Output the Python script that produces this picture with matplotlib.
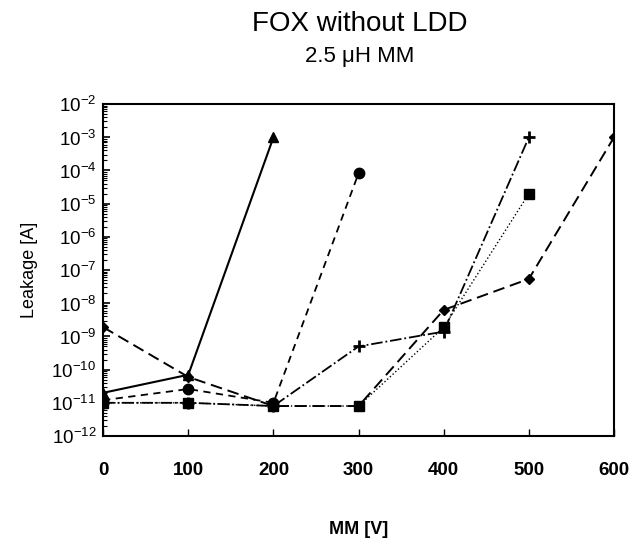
import matplotlib
matplotlib.use("Agg")
import matplotlib.pyplot as plt
from matplotlib.ticker import LogLocator, FixedLocator

plt.rcParams['font.family'] = ['Liberation Sans', 'DejaVu Sans']
plt.rcParams['mathtext.fontset'] = 'custom'
plt.rcParams['mathtext.rm'] = 'Liberation Sans'

mm_tri = [0, 100, 200]
leak_tri = [2e-11, 7e-11, 1e-3]

mm_circ = [0, 100, 200, 300]
leak_circ = [1.2e-11, 2.6e-11, 1e-11, 8.3e-5]

mm_plus = [0, 100, 200, 300, 400, 500]
leak_plus = [1e-11, 1e-11, 8e-12, 5e-10, 1.4e-9, 1e-3]

mm_sq = [0, 100, 200, 300, 400, 500]
leak_sq = [1e-11, 1e-11, 8e-12, 8e-12, 1.9e-9, 2e-5]

mm_dia = [0, 100, 200, 300, 400, 500, 600]
leak_dia = [1.9e-9, 6e-11, 8e-12, 8e-12, 6.3e-9, 5.4e-8, 1e-3]

fig = plt.figure(figsize=(6.33, 5.45), dpi=100)
ax = fig.add_axes([0.163, 0.2, 0.807, 0.609])

ax.plot(mm_sq, leak_sq, color='black', ls=':', lw=1.0, marker='s', ms=7)
ax.plot(mm_plus, leak_plus, color='black', ls='-.', lw=1.3, marker='+', ms=8, mew=2)
ax.plot(mm_dia, leak_dia, color='black', ls=(0, (6, 3)), lw=1.4, marker='D', ms=5.5)
ax.plot(mm_circ, leak_circ, color='black', ls=(0, (4, 3)), lw=1.3, marker='o', ms=7.5)
ax.plot(mm_tri, leak_tri, color='black', ls='-', lw=1.5, marker='^', ms=7)

ax.set_yscale('log')
ax.set_xlim(0, 600)
ax.set_ylim(1e-12, 1e-2)
ax.set_xticks([0, 100, 200, 300, 400, 500, 600])
ax.set_xticklabels(['0', '100', '200', '300', '400', '500', '600'],
                   fontsize=13.5, fontweight='bold')
exps = list(range(-12, -1))
ax.yaxis.set_major_locator(FixedLocator([10.0 ** e for e in exps]))
ax.set_yticklabels(['10$^{\\mathregular{%d}}$' % e for e in exps], fontsize=13.5)
ax.yaxis.set_minor_locator(LogLocator(base=10, subs=range(2, 10), numticks=20))

ax.tick_params(axis='x', direction='in', length=5, width=1, pad=19)
ax.tick_params(axis='y', which='major', direction='in', length=5, width=1.2, pad=5)
ax.tick_params(axis='y', which='minor', direction='in', length=3, width=0.8)
for s in ax.spines.values():
    s.set_linewidth(1.5)

ax.set_xlabel('MM [V]', fontsize=13, fontweight='bold', labelpad=30)
ax.set_ylabel('Leakage [A]', fontsize=13, labelpad=10)

fig.text(0.568, 0.956, 'FOX without LDD', ha='center', va='center', fontsize=20)
fig.text(0.568, 0.897, '2.5 μH MM', ha='center', va='center', fontsize=16)

fig.savefig('out.png', dpi=100)
